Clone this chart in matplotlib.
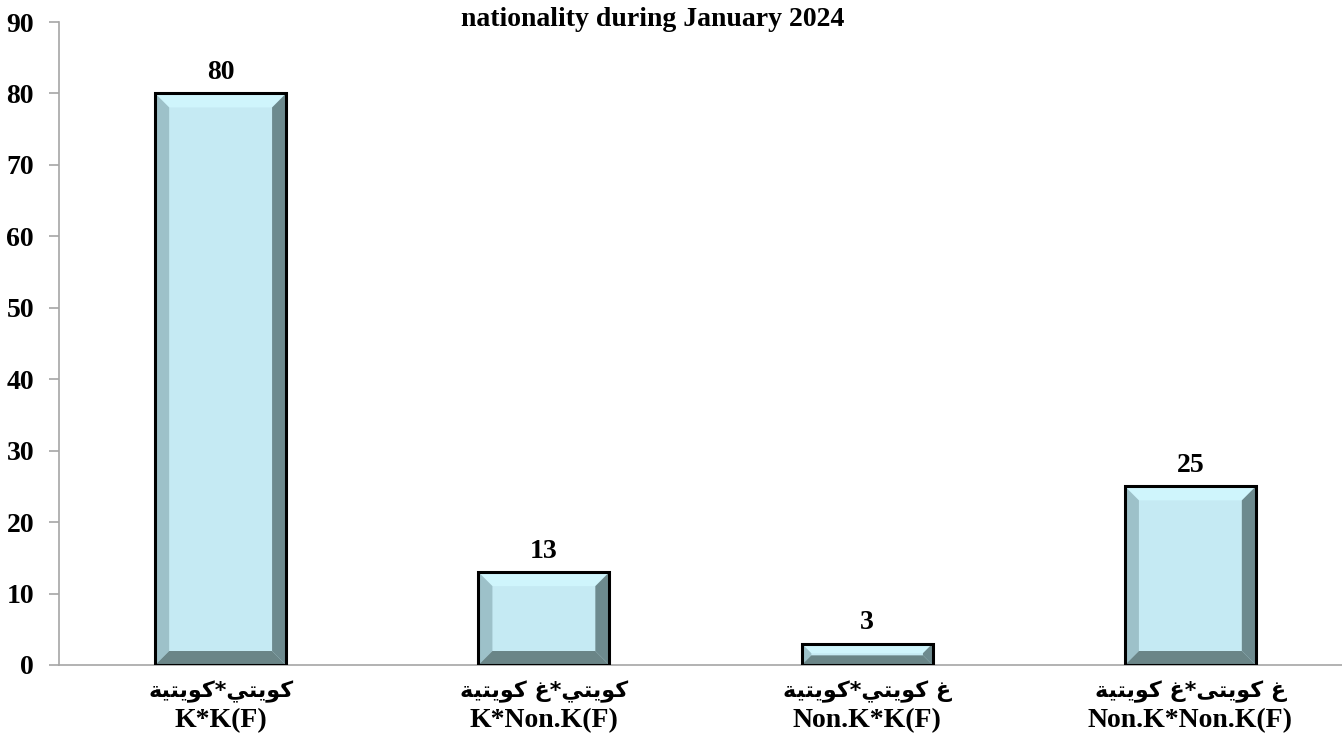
import matplotlib
matplotlib.use('Agg')
import matplotlib.pyplot as plt
from matplotlib.patches import Polygon
import numpy as np

# data
cats_ar = ['كويتي*كويتية', 'كويتي*غ كويتية', 'غ كويتي*كويتية', 'غ كويتى*غ كويتية']
cats_en = ['K*K(F)', 'K*Non.K(F)', 'Non.K*K(F)', 'Non.K*Non.K(F)']
values = [80, 13, 3, 25]
yticks = [0, 10, 20, 30, 40, 50, 60, 70, 80, 90]
title = 'nationality during January 2024'

# minimal arabic shaping (matplotlib has no shaping / bidi)
forms = {
    'ك': ('\uFED9', '\uFEDA', '\uFEDB', '\uFEDC'),
    'و': ('\uFEED', '\uFEEE', None, None),
    'ي': ('\uFEF1', '\uFEF2', '\uFEF3', '\uFEF4'),
    'ت': ('\uFE95', '\uFE96', '\uFE97', '\uFE98'),
    'ة': ('\uFE93', '\uFE94', None, None),
    'غ': ('\uFECD', '\uFECE', '\uFECF', '\uFED0'),
    'ى': ('\uFEEF', '\uFEF0', None, None),
}


def shape(s):
    out = []
    for i, ch in enumerate(s):
        if ch not in forms:
            out.append(ch)
            continue
        f = forms[ch]
        prev_ok = i > 0 and s[i - 1] in forms and forms[s[i - 1]][2] is not None
        next_ok = i < len(s) - 1 and s[i + 1] in forms and f[2] is not None
        if prev_ok and next_ok:
            out.append(f[3])
        elif prev_ok:
            out.append(f[1])
        elif next_ok:
            out.append(f[2])
        else:
            out.append(f[0])
    return ''.join(out[::-1])


W, H = 1342, 742
fig = plt.figure(figsize=(W / 100, H / 100), dpi=100)
ax = fig.add_axes([59 / W, 77 / H, 1293 / W, 643 / H])

face = '#c5eaf3'
top_c = '#cff5fc'
left_c = '#9dc1c9'
right_c = '#6d8a8e'
bot_c = '#6a8587'

x = np.arange(len(values))
bw = 0.405
ax.set_xlim(-0.5, len(values) - 0.5)
ax.set_ylim(0, 90)

ax.bar(x, values, width=bw, color=face, edgecolor='none', zorder=2)

# bevel pieces, sized in pixels
px_x = (len(values)) / 1293.0
px_y = 90 / 643.0
for xi, v in zip(x, values):
    x0, x1 = xi - bw / 2, xi + bw / 2
    y0, y1 = 0, v
    b = min(14, v / px_y * 0.45)
    bx, by = b * px_x, b * px_y
    ix0, ix1, iy0, iy1 = x0 + bx, x1 - bx, y0 + by, y1 - by
    ax.add_patch(Polygon([(x0, y1), (x1, y1), (ix1, iy1), (ix0, iy1)], color=top_c, lw=0, zorder=3))
    ax.add_patch(Polygon([(x0, y0), (x0, y1), (ix0, iy1), (ix0, iy0)], color=left_c, lw=0, zorder=3))
    ax.add_patch(Polygon([(x1, y0), (x1, y1), (ix1, iy1), (ix1, iy0)], color=right_c, lw=0, zorder=3))
    ax.add_patch(Polygon([(x0, y0), (x1, y0), (ix1, iy0), (ix0, iy0)], color=bot_c, lw=0, zorder=3))

ax.bar(x, values, width=bw, fill=False, edgecolor='black', linewidth=2.2, zorder=4)

for xi, v in zip(x, values):
    ax.annotate(str(v), (xi, v), xytext=(0, 6), textcoords='offset points',
                ha='center', va='bottom', fontsize=20, fontweight='bold',
                family='Liberation Serif')

for s in ['top', 'right']:
    ax.spines[s].set_visible(False)
for s in ['left', 'bottom']:
    ax.spines[s].set_color('#a6a6a6')
    ax.spines[s].set_linewidth(1.2)

ax.set_yticks(yticks)
ax.set_yticklabels([str(t) for t in yticks], fontsize=20, fontweight='bold',
                   family='Liberation Serif')
ax.tick_params(axis='y', direction='out', length=7, color='#a6a6a6', width=1.2, pad=11)

# english category names as tick labels, arabic line above them
ax.set_xticks(x)
ax.set_xticklabels(cats_en, fontsize=20, fontweight='bold', family='Liberation Serif')
ax.tick_params(axis='x', length=0, pad=31)
for xi, a in zip(x, cats_ar):
    ax.annotate(shape(a), (xi, 0), xycoords=('data', 'axes fraction'),
                xytext=(0, -19.5), textcoords='offset points', ha='center', va='center',
                fontsize=16, fontweight='bold', family='DejaVu Sans')

fig.text(653 / W, 1 - 19 / H, title, ha='center', va='center', fontsize=20,
         fontweight='bold', family='Liberation Serif')

plt.savefig('out.png', dpi=100)
plt.close()
